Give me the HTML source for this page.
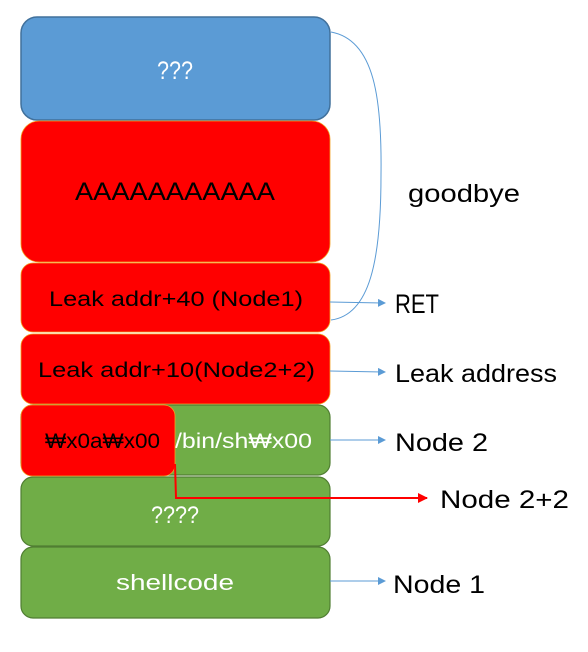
<!DOCTYPE html>
<html><head><style>body{margin:0;background:#fff}</style></head><body>
<svg width="588" height="647" xmlns="http://www.w3.org/2000/svg" font-family="Liberation Sans, DejaVu Sans, sans-serif">
<defs>
<marker id="ab" markerWidth="8" markerHeight="8" refX="7" refY="4" orient="auto" markerUnits="userSpaceOnUse"><path d="M0,0 L8,4 L0,8 z" fill="#5b9bd5"/></marker>
<marker id="ar" markerWidth="10" markerHeight="10" refX="9" refY="5" orient="auto" markerUnits="userSpaceOnUse"><path d="M0,0 L10,5 L0,10 z" fill="#ff0000"/></marker>
</defs>
<rect x="21" y="17" width="309" height="103" rx="16" fill="#5b9bd5" stroke="#41719c" stroke-width="1.5"/>
<text x="157" y="79" font-size="25" fill="#fff" textLength="36" lengthAdjust="spacingAndGlyphs">???</text>
<rect x="21" y="121" width="309" height="141" rx="18" fill="#ff0000" stroke="#f4a020" stroke-width="0.8"/>
<text x="75" y="200" font-size="25" fill="#000" textLength="200" lengthAdjust="spacingAndGlyphs">AAAAAAAAAAA</text>
<rect x="21" y="263" width="309" height="69" rx="12" fill="#ff0000" stroke="#f4a020" stroke-width="0.8"/>
<text x="49" y="306" font-size="21" textLength="254" lengthAdjust="spacingAndGlyphs">Leak addr+40 (Node1)</text>
<rect x="21" y="334" width="309" height="70" rx="12" fill="#ff0000" stroke="#f4a020" stroke-width="0.8"/>
<text x="38" y="377" font-size="21" textLength="277" lengthAdjust="spacingAndGlyphs">Leak addr+10(Node2+2)</text>
<rect x="21" y="405" width="309" height="70" rx="12" fill="#70ad47" stroke="#507e32" stroke-width="1.2"/>
<text x="175" y="448" font-size="21" fill="#fff" textLength="137" lengthAdjust="spacingAndGlyphs">/bin/sh₩x00</text>
<rect x="21" y="477" width="309" height="69" rx="12" fill="#70ad47" stroke="#507e32" stroke-width="1.2"/>
<text x="151" y="523" font-size="24" fill="#fff" textLength="48" lengthAdjust="spacingAndGlyphs">????</text>
<rect x="21" y="547" width="309" height="71" rx="12" fill="#70ad47" stroke="#507e32" stroke-width="1.2"/>
<text x="116" y="590" font-size="22" fill="#fff" textLength="118" lengthAdjust="spacingAndGlyphs">shellcode</text>
<rect x="21" y="405" width="154" height="71" rx="11" fill="#ff0000" stroke="#f4a020" stroke-width="0.8"/>
<text x="45" y="448" font-size="21" textLength="115" lengthAdjust="spacingAndGlyphs">₩x0a₩x00</text>
<path d="M331,32 C375,40 382,100 381,175 C381,260 370,315 331,320" fill="none" stroke="#5b9bd5" stroke-width="1"/>
<line x1="330" y1="302" x2="385" y2="303" stroke="#5b9bd5" stroke-width="1" marker-end="url(#ab)"/>
<line x1="330" y1="371" x2="385" y2="372" stroke="#5b9bd5" stroke-width="1" marker-end="url(#ab)"/>
<line x1="330" y1="440" x2="385" y2="440" stroke="#5b9bd5" stroke-width="1" marker-end="url(#ab)"/>
<line x1="330" y1="581" x2="385" y2="581" stroke="#5b9bd5" stroke-width="1" marker-end="url(#ab)"/>
<path d="M175,464 L176,498 L427,498" fill="none" stroke="#ff0000" stroke-width="2" marker-end="url(#ar)"/>
<text x="408" y="202" font-size="25" textLength="112" lengthAdjust="spacingAndGlyphs">goodbye</text>
<text x="395" y="313" font-size="27" textLength="44" lengthAdjust="spacingAndGlyphs">RET</text>
<text x="395" y="382" font-size="25" textLength="162" lengthAdjust="spacingAndGlyphs">Leak address</text>
<text x="395" y="451" font-size="25" textLength="93" lengthAdjust="spacingAndGlyphs">Node 2</text>
<text x="440" y="508" font-size="25" textLength="129" lengthAdjust="spacingAndGlyphs">Node 2+2</text>
<text x="393" y="593" font-size="25" textLength="92" lengthAdjust="spacingAndGlyphs">Node 1</text>
</svg>
</body></html>
